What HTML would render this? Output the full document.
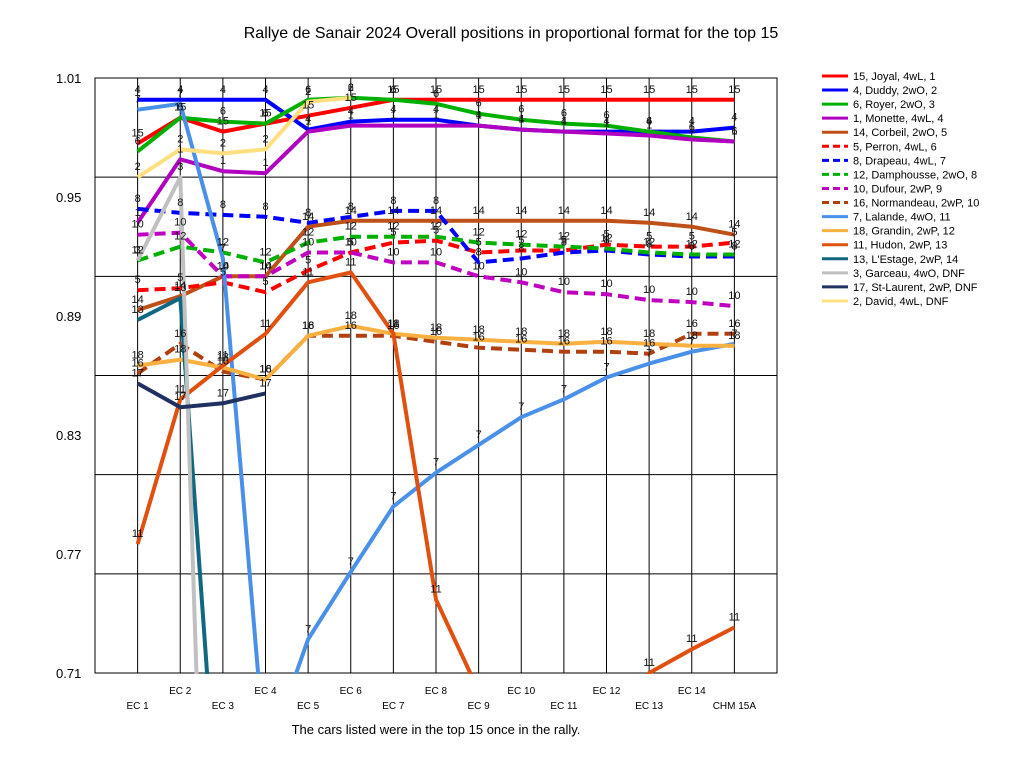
<!DOCTYPE html>
<html><head><meta charset="utf-8"><style>
html,body{margin:0;padding:0;background:#fff;overflow:hidden;width:1024px;height:768px}
svg{display:block;font-family:"Liberation Sans",Arial,sans-serif}
</style></head><body>
<svg id="chart" width="1024" height="768" viewBox="0 0 1024 768">
<rect x="0" y="0" width="1024" height="768" fill="#fff"/>
<text x="511" y="38" font-size="16" text-anchor="middle">Rallye de Sanair 2024  Overall positions in proportional format for the top 15</text>
<text x="436" y="734" font-size="13" text-anchor="middle">The cars listed were in the top 15 once in the rally.</text>
<defs><clipPath id="plotclip"><rect x="95" y="76" width="682" height="598"/></clipPath></defs>
<g id="grid"></g>
<g id="series" clip-path="url(#plotclip)"></g>
<g id="labels" clip-path="url(#plotclip)"></g>
<g id="axes"></g>
<g id="legend"></g>
</svg>
<script>
const categories = ["EC 1","EC 2","EC 3","EC 4","EC 5","EC 6","EC 7","EC 8","EC 9","EC 10","EC 11","EC 12","EC 13","EC 14","CHM 15A"];
const yTicks = [1.01,0.95,0.89,0.83,0.77,0.71];
const yGrid = [0.96,0.91,0.86,0.81,0.76];
const seriesNames = ["15, Joyal, 4wL, 1","4, Duddy, 2wO, 2","6, Royer, 2wO, 3","1, Monette, 4wL, 4","14, Corbeil, 2wO, 5","5, Perron, 4wL, 6","8, Drapeau, 4wL, 7","12, Damphousse, 2wO, 8","10, Dufour, 2wP, 9","16, Normandeau, 2wP, 10","7, Lalande, 4wO, 11","18, Grandin, 2wP, 12","11, Hudon, 2wP, 13","13, L'Estage, 2wP, 14","3, Garceau, 4wO,  DNF","17, St-Laurent, 2wP,  DNF","2, David, 4wL,  DNF"];
const carNumbers = ["15","4","6","1","14","5","8","12","10","16","7","18","11","13","3","17","2"];
const joyal = [0.977,0.990,0.983,0.987,0.991,0.995,0.999,0.999,0.999,0.999,0.999,0.999,0.999,0.999,0.999];
const duddy = [0.999,0.999,0.999,0.999,0.984,0.988,0.989,0.989,0.986,0.984,0.983,0.983,0.983,0.983,0.985];
const royer = [0.973,0.990,0.988,0.987,0.999,1.000,0.999,0.997,0.992,0.989,0.987,0.986,0.983,0.980,0.978];
const monette = [0.937,0.969,0.963,0.962,0.983,0.986,0.986,0.986,0.986,0.984,0.983,0.982,0.981,0.979,0.978];
const corbeil = [0.893,0.900,0.910,0.910,0.935,0.938,0.938,0.938,0.938,0.938,0.938,0.938,0.937,0.935,0.931];
const perron = [0.903,0.904,0.907,0.902,0.913,0.922,0.927,0.928,0.922,0.923,0.923,0.926,0.925,0.925,0.927];
const drapeau = [0.944,0.942,0.941,0.940,0.937,0.940,0.943,0.943,0.917,0.919,0.922,0.923,0.921,0.920,0.920];
const damphousse = [0.918,0.925,0.922,0.917,0.927,0.930,0.930,0.930,0.927,0.926,0.925,0.924,0.922,0.921,0.921];
const dufour = [0.931,0.932,0.910,0.910,0.922,0.922,0.917,0.917,0.910,0.907,0.902,0.901,0.898,0.897,0.895];
const normandeau = [0.861,0.876,0.862,0.858,0.880,0.880,0.880,0.877,0.874,0.873,0.872,0.872,0.871,0.881,0.881];
const lalande = [0.994,0.997,0.919,0.666,0.727,0.761,0.794,0.811,0.825,0.839,0.848,0.859,0.866,0.872,0.876];
const grandin = [0.865,0.868,0.864,0.858,0.880,0.885,0.881,0.879,0.878,0.877,0.876,0.877,0.876,0.875,0.875];
const hudon = [0.775,0.848,0.865,0.881,0.907,0.912,0.881,0.747,0.701,0.680,0.680,0.680,0.710,0.722,0.733];
const lestage = [0.888,0.899,0.598,null,null,null,null,null,null,null,null,null,null,null,null];
const garceau = [0.918,0.960,0.300,null,null,null,null,null,null,null,null,null,null,null,null];
const stlaurent = [0.856,0.844,0.846,0.851,null,null,null,null,null,null,null,null,null,null,null];
const david = [0.960,0.974,0.972,0.974,0.998,1.000,null,null,null,null,null,null,null,null,null];
const seriesValues = [joyal,duddy,royer,monette,corbeil,perron,drapeau,damphousse,dufour,normandeau,lalande,grandin,hudon,lestage,garceau,stlaurent,david];
const colors = ["#ff0000","#0000ff","#00b000","#b000c0","#c0501a","#ff0000","#0000ff","#00b000","#c000c0","#b04010","#4a90e8","#f8b040","#e05010","#106880","#c0c0c0","#203060","#ffe080"];
const dashed = [false,false,false,false,false,true,true,true,true,true,false,false,false,false,false,false,false];

const NS="http://www.w3.org/2000/svg";
const X0=95,X1=777,Y0=78,Y1=673,VMAX=1.01,VMIN=0.71;
function xPos(i){return X0+(X1-X0)*(i+1)/(categories.length+1);}
function yPos(v){return Y0+(VMAX-v)/(VMAX-VMIN)*(Y1-Y0);}
function mk(tag,attrs,parent){const e=document.createElementNS(NS,tag);for(const k in attrs)e.setAttribute(k,attrs[k]);parent.appendChild(e);return e;}

const grid=document.getElementById('grid');
const axes=document.getElementById('axes');
mk('rect',{x:X0,y:Y0,width:X1-X0,height:Y1-Y0,fill:'none',stroke:'#000','stroke-width':1},grid);
yGrid.forEach(v=>{const l=mk('line',{x1:X0,x2:X1,y1:yPos(v),y2:yPos(v),stroke:'#000','stroke-width':1},grid);

});
categories.forEach((c,i)=>{const l=mk('line',{x1:xPos(i),x2:xPos(i),y1:Y0,y2:Y1,stroke:'#000','stroke-width':1},grid);


const t=mk('text',{x:xPos(i),y:(i%2===0)?709:694,'font-size':10,'text-anchor':'middle'},axes);
t.textContent=c;

});
yTicks.forEach(v=>{const t=mk('text',{x:56,y:yPos(v)+5,'font-size':13},axes);
t.textContent=v.toFixed(2);

});

const sg=document.getElementById('series');
const lg=document.getElementById('labels');
seriesValues.forEach((vals,s)=>{
  let d='';let pen=false;
  vals.forEach((v,i)=>{if(v===null){pen=false;return;}d+=(pen?'L':'M')+xPos(i).toFixed(1)+' '+yPos(v).toFixed(1)+' ';pen=true;});
  const p=mk('path',{d:d,fill:'none',stroke:colors[s],'stroke-width':4,'stroke-linejoin':'round'},sg);
  if(dashed[s])p.setAttribute('stroke-dasharray','11,6');
  
  
  vals.forEach((v,i)=>{if(v===null)return;
    const t=mk('text',{x:xPos(i),y:yPos(v)-7,'font-size':11,'text-anchor':'middle',fill:'#111'},lg);
    t.textContent=carNumbers[s];
    
    });
});

const leg=document.getElementById('legend');
seriesNames.forEach((n,s)=>{const y=76+s*14.06;
  const l=mk('line',{x1:822,x2:848,y1:y,y2:y,stroke:colors[s],'stroke-width':3},leg);
  if(dashed[s])l.setAttribute('stroke-dasharray','7,4');
  
  
  const t=mk('text',{x:853,y:y+4,'font-size':11},leg);
  t.textContent=n;
  
  });
</script>
</body></html>
